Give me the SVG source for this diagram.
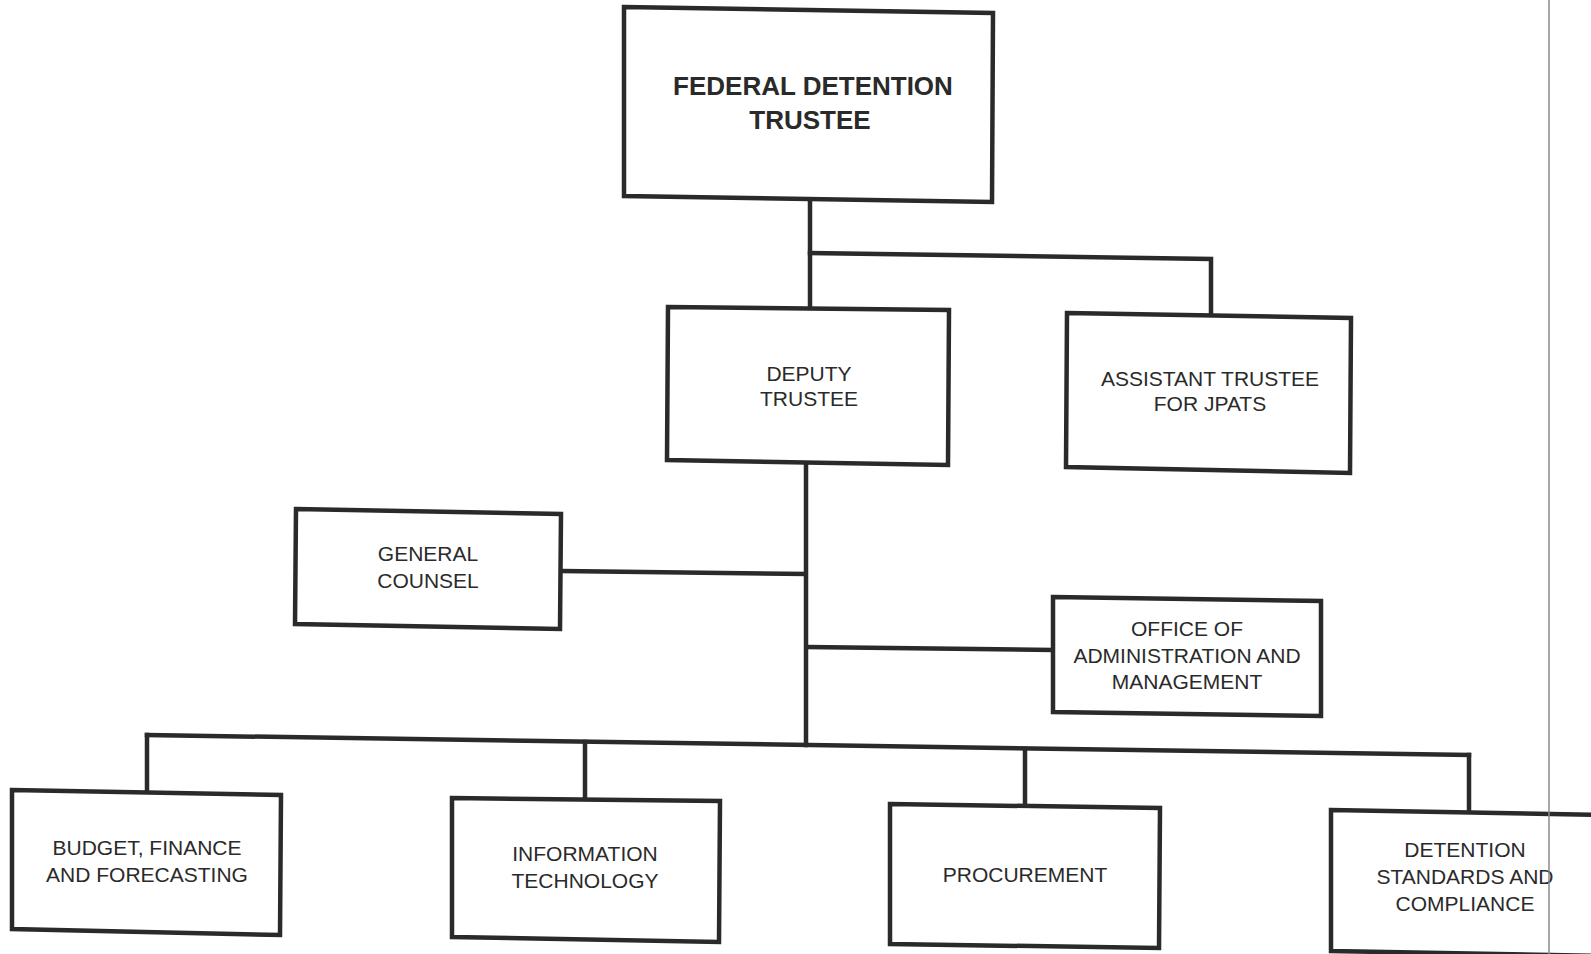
<svg xmlns="http://www.w3.org/2000/svg" width="1591" height="954" viewBox="0 0 1591 954">
<style>
.box{fill:#fff;stroke:#2a2a2a;stroke-width:4.5;stroke-linejoin:miter}
.ln{fill:none;stroke:#2a2a2a;stroke-width:4.5;stroke-linecap:square}
.t{font-family:"Liberation Sans",Arial,sans-serif;font-size:21px;fill:#2a2a2a;text-anchor:middle}
.tb{font-family:"Liberation Sans",Arial,sans-serif;font-size:26px;font-weight:bold;fill:#2a2a2a;text-anchor:middle}
</style>
<rect width="1591" height="954" fill="#fff"/>
<g id="connectors">
<polyline class="ln" points="810,201 810,307"/>
<polyline class="ln" points="810,253 1211,259 1211,315"/>
<polyline class="ln" points="806,466 806,745"/>
<polyline class="ln" points="562,571 805,574"/>
<polyline class="ln" points="807,647 1052,650"/>
<polyline class="ln" points="147,735 1469,755"/>
<polyline class="ln" points="147,735 147,791"/>
<polyline class="ln" points="585,742 585,799"/>
<polyline class="ln" points="1025,749 1025,806"/>
<polyline class="ln" points="1469,755 1469,811"/>
</g>
<g id="federal-detention-trustee">
<polygon class="box" points="624,7 993,13 992,202 624,196"/>
<text class="tb" x="813" y="95">FEDERAL DETENTION</text>
<text class="tb" x="810" y="129">TRUSTEE</text>
</g>
<g id="deputy-trustee">
<polygon class="box" points="668,307 949,310 948,465 667,460"/>
<text class="t" x="809" y="381">DEPUTY</text>
<text class="t" x="809" y="406">TRUSTEE</text>
</g>
<g id="assistant-trustee">
<polygon class="box" points="1067,313 1351,318 1350,473 1066,467"/>
<text class="t" x="1210" y="386">ASSISTANT TRUSTEE</text>
<text class="t" x="1210" y="411">FOR JPATS</text>
</g>
<g id="general-counsel">
<polygon class="box" points="296,509 561,514 560,629 295,624"/>
<text class="t" x="428" y="561">GENERAL</text>
<text class="t" x="428" y="588">COUNSEL</text>
</g>
<g id="office-admin">
<polygon class="box" points="1053,597 1321,601 1321,716 1053,712"/>
<text class="t" x="1187" y="636">OFFICE OF</text>
<text class="t" x="1187" y="663">ADMINISTRATION AND</text>
<text class="t" x="1187" y="689">MANAGEMENT</text>
</g>
<g id="budget">
<polygon class="box" points="12,790 281,795 280,935 12,929"/>
<text class="t" x="147" y="855">BUDGET, FINANCE</text>
<text class="t" x="147" y="882">AND FORECASTING</text>
</g>
<g id="information-technology">
<polygon class="box" points="452,798 720,801 719,942 452,937"/>
<text class="t" x="585" y="861">INFORMATION</text>
<text class="t" x="585" y="888">TECHNOLOGY</text>
</g>
<g id="procurement">
<polygon class="box" points="890,804 1160,808 1159,948 890,944"/>
<text class="t" x="1025" y="882">PROCUREMENT</text>
</g>
<g id="detention-standards">
<polygon class="box" points="1331,810 1600,815 1600,956 1331,951"/>
<text class="t" x="1465" y="857">DETENTION</text>
<text class="t" x="1465" y="884">STANDARDS AND</text>
<text class="t" x="1465" y="911">COMPLIANCE</text>
</g>
<line x1="1549" y1="0" x2="1549" y2="954" stroke="#8a8a8a" stroke-width="1.5"/>
</svg>
